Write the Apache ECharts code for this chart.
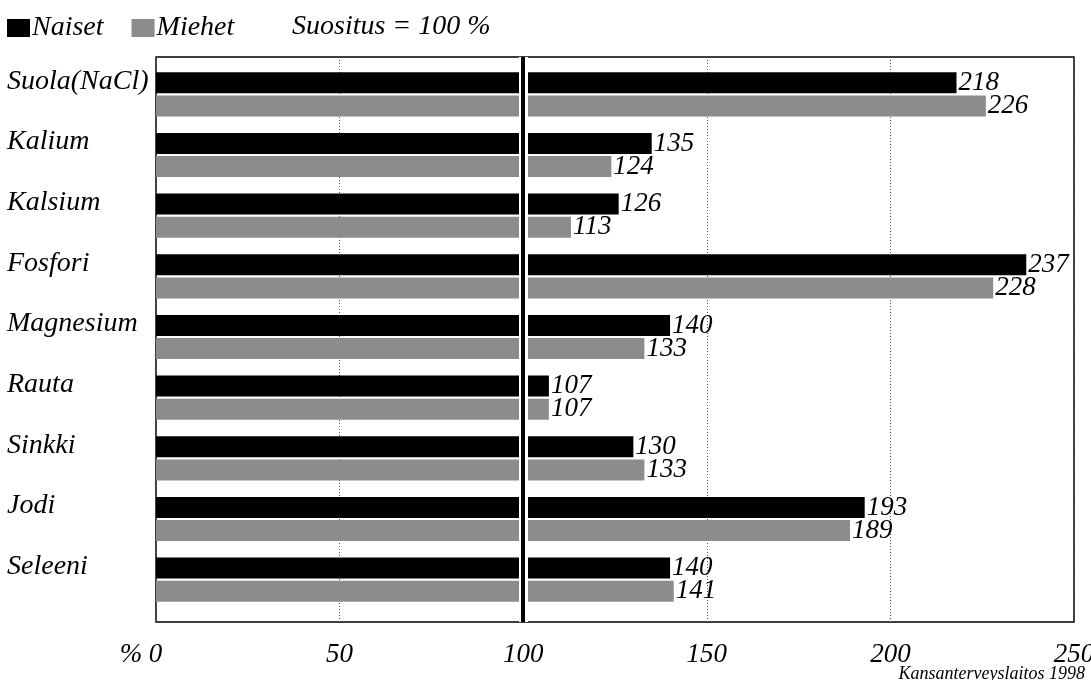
<!DOCTYPE html>
<html>
<head>
<meta charset="utf-8">
<script src="https://cdn.jsdelivr.net/npm/echarts@6/dist/echarts.min.js"></script>
<style>html,body{margin:0;padding:0;background:#fff;}#chart{width:1091px;height:680px;}</style>
</head>
<body>
<div id="chart"></div>
<script>
const categories = ['Suola(NaCl)', 'Kalium', 'Kalsium', 'Fosfori', 'Magnesium', 'Rauta', 'Sinkki', 'Jodi', 'Seleeni'];
const naiset = [218, 135, 126, 237, 140, 107, 130, 193, 140];
const miehet = [226, 124, 113, 228, 133, 107, 133, 189, 141];
const xTicks = [0, 50, 100, 150, 200, 250];
const recommendation = 100;
const recommendationText = 'Suositus = 100 %';
const sourceText = 'Kansanterveyslaitos 1998';

const FONT = 'Liberation Serif';
const txt = (size) => ({ fontFamily: FONT, fontStyle: 'italic', fontSize: size, color: '#000' });

const chart = echarts.init(document.getElementById('chart'), null, { renderer: 'canvas' });
chart.setOption({
  animation: false,
  backgroundColor: '#fff',
  title: [
    { text: recommendationText, left: 287, top: 8, textStyle: Object.assign(txt(28), { fontWeight: 'normal' }) },
    { text: sourceText, right: 1, top: 660, textStyle: Object.assign(txt(18), { fontWeight: 'normal' }) }
  ],
  legend: {
    left: 2, top: 9,
    itemWidth: 23, itemHeight: 18, itemGap: 28,
    icon: 'rect',
    textStyle: Object.assign(txt(28), { padding: [0, 0, 0, -3] }),
    data: ['Naiset', 'Miehet']
  },
  grid: [
    { left: 156, right: 17, top: 64, bottom: 70, outerBoundsMode: 'none' },
    { left: 156, right: 17, top: 57, bottom: 58, outerBoundsMode: 'none', show: true, borderColor: '#000', borderWidth: 1.5, backgroundColor: 'transparent' }
  ],
  xAxis: [
    { gridIndex: 0, type: 'value', min: xTicks[0], max: xTicks[xTicks.length - 1], interval: 50, show: false },
    {
      gridIndex: 1, type: 'value', min: xTicks[0], max: xTicks[xTicks.length - 1], interval: 50,
      axisLine: { show: false }, axisTick: { show: false },
      splitLine: { show: true, lineStyle: { color: '#555', type: [1, 2], width: 1 } },
      axisLabel: Object.assign(txt(27), {
        margin: 19,
        formatter: (v) => v === 0 ? '{z|% 0}' : String(v),
        rich: { z: Object.assign(txt(27), { padding: [0, 30, 0, 0] }) }
      })
    }
  ],
  yAxis: [
    {
      gridIndex: 0, type: 'category', data: categories, inverse: true,
      axisLine: { show: false }, axisTick: { show: false }, splitLine: { show: false },
      axisLabel: Object.assign(txt(28), { align: 'left', margin: 149, verticalAlign: 'bottom', lineHeight: 26 })
    },
    { gridIndex: 1, type: 'value', min: 0, max: 1, show: false }
  ],
  series: [
    {
      name: 'Naiset', type: 'bar', xAxisIndex: 0, yAxisIndex: 0, data: naiset,
      barWidth: 21, barGap: '10%',
      itemStyle: { color: '#000' },
      label: Object.assign({ show: true, position: 'right', distance: 2 }, txt(27))
    },
    {
      name: 'Miehet', type: 'bar', xAxisIndex: 0, yAxisIndex: 0, data: miehet,
      barWidth: 21, barGap: '10%',
      itemStyle: { color: '#8c8c8c' },
      label: Object.assign({ show: true, position: 'right', distance: 2 }, txt(27))
    },
    {
      name: 'ref', type: 'line', xAxisIndex: 1, yAxisIndex: 1, data: [], z: 10,
      markLine: {
        silent: true, symbol: ['none', 'none'], label: { show: false }, animation: false,
        data: [
          { xAxis: recommendation, lineStyle: { color: '#fff', width: 9, type: 'solid' } },
          { xAxis: recommendation, lineStyle: { color: '#000', width: 4, type: 'solid' } }
        ]
      }
    }
  ]
});
</script>
</body>
</html>
